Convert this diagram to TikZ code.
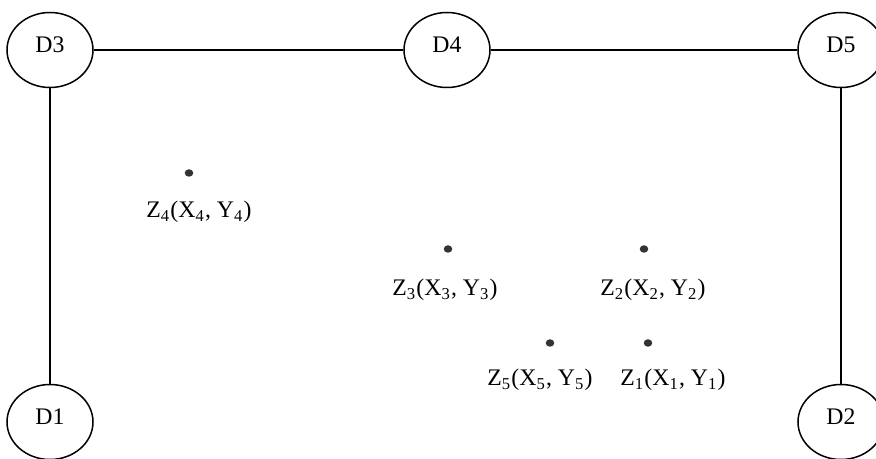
\documentclass[tikz,border=0pt]{standalone}
\usepackage{fontspec}
\setmainfont{Liberation Serif}
\usetikzlibrary{shapes.geometric}

\begin{document}
\begin{tikzpicture}[
  x=0.4pt,
  y=-0.4pt,
  station/.style={ellipse, draw=black, line width=0.6pt, fill=white, minimum width=34.4pt, minimum height=30pt, inner sep=0pt, text depth=4pt, font=\fontsize{9.5}{11}\selectfont},
  link/.style={draw=black, line width=0.6pt},
  target/.style={ellipse, fill=black!80, inner sep=0pt, minimum width=3.4pt, minimum height=3pt},
  tag/.style={font=\fontsize{9.5}{11}\selectfont, anchor=base, inner sep=0pt}
]

\useasboundingbox (0,0) rectangle (876,459);

% Stations on the border
\node[station] (D3) at (50,50) {D3};
\node[station] (D4) at (447,50) {D4};
\node[station] (D5) at (841,50) {D5};
\node[station] (D1) at (50,422) {D1};
\node[station] (D2) at (841,422) {D2};

% Links between stations
\draw[link] (D3) -- (D4);
\draw[link] (D4) -- (D5);
\draw[link] (D3) -- (D1);
\draw[link] (D5) -- (D2);

% Target points with their coordinates
\node[target] (Z4) at (189,173) {};
\node[tag] (L4) at (199,218) {Z\textsubscript{4}(X\textsubscript{4}, Y\textsubscript{4})};
\node[target] (Z3) at (448,249) {};
\node[tag] (L3) at (445,296) {Z\textsubscript{3}(X\textsubscript{3}, Y\textsubscript{3})};
\node[target] (Z2) at (644,249) {};
\node[tag] (L2) at (653,296) {Z\textsubscript{2}(X\textsubscript{2}, Y\textsubscript{2})};
\node[target] (Z5) at (550,343) {};
\node[tag] (L5) at (540,386) {Z\textsubscript{5}(X\textsubscript{5}, Y\textsubscript{5})};
\node[target] (Z1) at (648,343) {};
\node[tag] (L1) at (673,386) {Z\textsubscript{1}(X\textsubscript{1}, Y\textsubscript{1})};

\end{tikzpicture}
\end{document}
